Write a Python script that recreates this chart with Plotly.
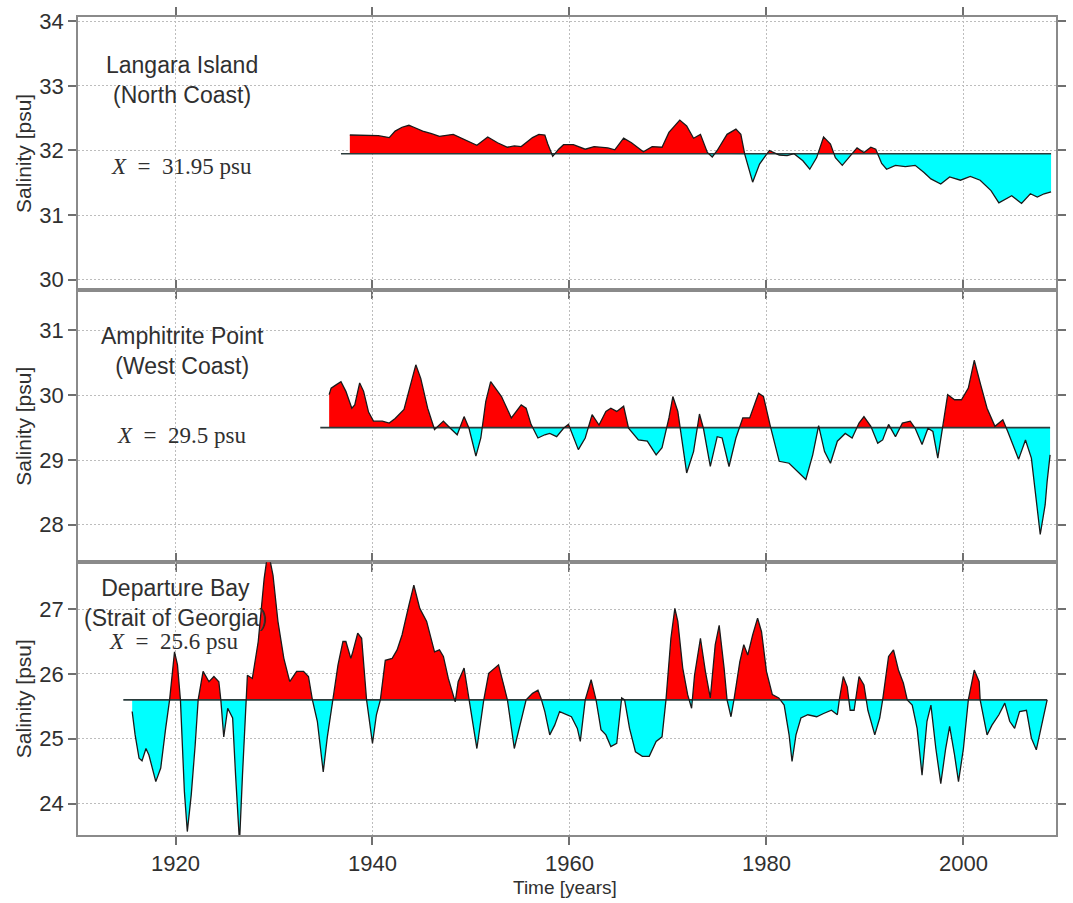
import plotly.graph_objects as go
from plotly.subplots import make_subplots

# ---------------- data ----------------
station_names = ["Langara Island<br>(North Coast)",
                 "Amphitrite Point<br>(West Coast)",
                 "Departure Bay<br>(Strait of Georgia)"]
mean_values = [31.95, 29.5, 25.6]
mean_labels = ["31.95", "29.5", "25.6"]
x_tick_labels = [1920, 1940, 1960, 1980, 2000]

langara_years = [1937.7, 1938.5, 1939.6, 1940.6, 1941.7, 1942.3, 1943.0, 1943.7, 1944.2, 1945.1,
                 1946.0, 1946.8, 1948.2, 1949.3, 1950.6, 1951.7, 1952.7, 1953.7, 1954.4, 1955.1,
                 1955.6, 1956.25, 1956.9, 1957.5, 1957.8, 1958.3, 1958.9, 1959.4, 1960.4, 1961.6,
                 1962.5, 1963.9, 1964.6, 1965.5, 1966.3, 1967.5, 1968.4, 1969.4, 1970.1, 1971.2,
                 1971.9, 1972.6, 1973.3, 1974.0, 1974.5, 1975.0, 1976.0, 1976.9, 1977.4, 1977.8,
                 1978.6, 1979.3, 1980.3, 1981.3, 1982.1, 1982.8, 1983.7, 1984.4, 1985.1, 1985.8,
                 1986.5, 1987.0, 1987.7, 1988.4, 1989.2, 1989.9, 1990.6, 1991.1, 1991.7, 1992.2,
                 1993.1, 1994.1, 1995.1, 1996.0, 1996.7, 1997.7, 1998.6, 1999.7, 2000.7, 2001.7,
                 2002.8, 2003.6, 2004.3, 2004.9, 2005.9, 2006.8, 2007.5, 2008.2, 2008.9]
langara_salinity = [32.24, 32.24, 32.24, 32.23, 32.2, 32.3, 32.36, 32.39, 32.36, 32.3,
                    32.26, 32.22, 32.25, 32.17, 32.08, 32.21, 32.12, 32.05, 32.07, 32.06,
                    32.12, 32.2, 32.25, 32.24, 32.1, 31.91, 32.02, 32.09, 32.09, 32.02,
                    32.06, 32.04, 32.01, 32.19, 32.12, 31.98, 32.06, 32.05, 32.28, 32.47,
                    32.38, 32.19, 32.25, 31.97, 31.9, 32.0, 32.25, 32.33, 32.25, 31.94,
                    31.51, 31.79, 32.0, 31.93, 31.92, 31.95, 31.84, 31.71, 31.89, 32.21,
                    32.1, 31.89, 31.77, 31.9, 32.04, 31.97, 32.05, 32.02, 31.8, 31.71,
                    31.77, 31.75, 31.77, 31.66, 31.56, 31.48, 31.59, 31.54, 31.6, 31.54,
                    31.38, 31.19, 31.25, 31.3, 31.18, 31.33, 31.28, 31.33, 31.36]

amphitrite_years = [1935.6, 1935.8, 1936.3, 1936.8, 1937.3, 1937.9, 1938.2, 1938.7, 1939.1, 1939.6,
                    1940.1, 1941.0, 1941.7, 1942.3, 1943.2, 1943.7, 1944.4, 1944.9, 1945.6, 1946.3,
                    1947.2, 1947.9, 1948.6, 1949.3, 1949.8, 1950.5, 1951.0, 1951.5, 1952.0, 1953.1,
                    1954.1, 1955.1, 1955.6, 1956.1, 1956.8, 1957.5, 1958.0, 1958.7, 1959.4, 1959.9,
                    1960.9, 1961.6, 1962.3, 1963.0, 1963.7, 1964.2, 1964.8, 1965.5, 1966.0, 1967.0,
                    1967.9, 1968.8, 1969.4, 1970.1, 1970.5, 1971.0, 1971.9, 1972.6, 1973.2, 1973.6,
                    1974.3, 1975.0, 1975.5, 1976.2, 1976.9, 1977.6, 1978.3, 1979.2, 1979.7, 1980.4,
                    1981.3, 1982.3, 1983.3, 1984.0, 1984.7, 1985.3, 1985.9, 1986.5, 1987.2, 1988.0,
                    1988.7, 1989.4, 1989.9, 1990.6, 1991.3, 1991.8, 1992.4, 1993.1, 1993.8, 1994.6,
                    1995.1, 1995.8, 1996.4, 1996.9, 1997.4, 1997.9, 1998.4, 1999.1, 1999.8, 2000.5,
                    2001.1, 2001.7, 2002.4, 2003.2, 2004.0, 2004.5, 2005.6, 2006.3, 2006.9, 2007.8,
                    2008.3, 2008.5, 2008.8]
amphitrite_salinity = [30.01, 30.11, 30.16, 30.21, 30.06, 29.8, 29.85, 30.19, 30.06, 29.74,
                       29.6, 29.6, 29.57, 29.64, 29.78, 30.06, 30.47, 30.26, 29.8, 29.47,
                       29.6, 29.49, 29.39, 29.67, 29.49, 29.06, 29.34, 29.9, 30.21, 29.98,
                       29.65, 29.85, 29.8, 29.55, 29.34, 29.39, 29.41, 29.36, 29.49, 29.55,
                       29.16, 29.34, 29.7, 29.54, 29.75, 29.8, 29.75, 29.83, 29.49, 29.31,
                       29.29, 29.08, 29.19, 29.65, 29.98, 29.75, 28.8, 29.13, 29.71, 29.49,
                       28.9, 29.36, 29.34, 28.9, 29.34, 29.65, 29.65, 30.03, 29.98, 29.52,
                       28.98, 28.95, 28.8, 28.7, 29.08, 29.53, 29.13, 28.95, 29.29, 29.41,
                       29.34, 29.57, 29.67, 29.52, 29.26, 29.31, 29.55, 29.36, 29.57, 29.6,
                       29.49, 29.24, 29.49, 29.44, 29.03, 29.5, 30.01, 29.93, 29.93, 30.11,
                       30.54, 30.19, 29.8, 29.52, 29.62, 29.44, 29.01, 29.31, 29.03, 27.85,
                       28.31, 28.67, 29.08]

departure_years = [1915.6, 1915.9, 1916.3, 1916.6, 1917.0, 1917.3, 1918.0, 1918.5, 1919.0, 1919.4,
                   1919.9, 1920.2, 1920.5, 1920.9, 1921.2, 1921.6, 1922.0, 1922.3, 1922.8, 1923.4,
                   1923.9, 1924.4, 1924.6, 1924.9, 1925.3, 1925.8, 1926.1, 1926.5, 1926.8, 1927.2,
                   1927.3, 1927.8, 1928.4, 1929.0, 1929.4, 1929.9, 1930.4, 1931.0, 1931.6, 1932.3,
                   1933.0, 1933.5, 1933.9, 1934.4, 1935.0, 1935.4, 1936.0, 1936.5, 1937.0, 1937.3,
                   1937.8, 1938.0, 1938.5, 1938.9, 1939.4, 1940.0, 1940.4, 1940.8, 1941.3, 1942.0,
                   1942.5, 1943.0, 1943.7, 1944.2, 1944.8, 1945.5, 1946.3, 1946.8, 1947.2, 1947.7,
                   1948.4, 1948.7, 1949.3, 1949.8, 1950.6, 1951.3, 1951.8, 1952.8, 1953.4, 1953.7,
                   1954.4, 1955.1, 1955.6, 1956.25, 1956.8, 1957.1, 1957.5, 1958.0, 1958.5, 1959.0,
                   1959.7, 1960.2, 1960.8, 1961.1, 1961.6, 1962.2, 1962.7, 1963.2, 1963.7, 1964.2,
                   1964.8, 1965.3, 1965.6, 1966.1, 1966.7, 1967.4, 1968.1, 1968.8, 1969.4, 1969.8,
                   1970.3, 1970.7, 1971.0, 1971.5, 1972.0, 1972.4, 1972.7, 1973.3, 1973.8, 1974.3,
                   1974.8, 1975.2, 1975.7, 1976.0, 1976.4, 1976.7, 1977.3, 1977.7, 1978.1, 1978.6,
                   1979.1, 1979.5, 1980.0, 1980.6, 1981.25, 1981.8, 1982.3, 1982.6, 1983.0, 1983.5,
                   1984.2, 1985.1, 1985.8, 1986.6, 1987.2, 1987.4, 1987.8, 1988.2, 1988.5, 1988.9,
                   1989.4, 1989.9, 1990.3, 1991.0, 1991.5, 1991.8, 1992.4, 1992.9, 1993.4, 1993.9,
                   1994.3, 1994.8, 1995.3, 1995.8, 1996.3, 1996.7, 1997.2, 1997.7, 1998.2, 1998.6,
                   1999.1, 1999.5, 2000.0, 2000.5, 2001.1, 2001.6, 2001.7, 2002.1, 2002.4, 2002.9,
                   2003.6, 2004.2, 2004.7, 2005.2, 2005.7, 2006.4, 2006.9, 2007.4, 2008.0, 2008.5]
departure_salinity = [25.42, 25.06, 24.7, 24.66, 24.85, 24.75, 24.34, 24.55, 25.16, 25.6,
                      26.34, 26.14, 25.6, 24.19, 23.57, 24.14, 24.91, 25.6, 26.04, 25.88,
                      25.96, 25.88, 25.6, 25.03, 25.47, 25.32, 24.44, 23.4, 24.44, 25.6,
                      25.98, 25.93, 26.5, 27.47, 27.9, 27.52, 26.81, 26.24, 25.88, 26.04,
                      26.04, 25.96, 25.6, 25.27, 24.49, 25.01, 25.6, 26.14, 26.5, 26.5,
                      26.24, 26.34, 26.63, 26.55, 25.6, 24.93, 25.37, 25.6, 26.21, 26.24,
                      26.37, 26.6, 27.06, 27.37, 27.01, 26.81, 26.34, 26.37, 26.27, 25.93,
                      25.57, 25.88, 26.09, 25.6, 24.85, 25.6, 26.01, 26.14, 25.8, 25.6,
                      24.85, 25.27, 25.6, 25.7, 25.75, 25.63, 25.42, 25.06, 25.21, 25.42,
                      25.37, 25.34, 25.16, 24.96, 25.6, 25.91, 25.6, 25.14, 25.06, 24.88,
                      24.93, 25.63, 25.6, 25.16, 24.8, 24.73, 24.73, 24.96, 25.03, 25.6,
                      26.55, 27.01, 26.81, 26.09, 25.68, 25.47, 25.98, 26.55, 26.04, 25.63,
                      26.45, 26.75, 26.09, 25.6, 25.34, 25.6, 26.19, 26.45, 26.29, 26.6,
                      26.86, 26.65, 26.04, 25.68, 25.63, 25.52, 25.06, 24.65, 25.06, 25.32,
                      25.37, 25.34, 25.39, 25.44, 25.37, 25.6, 25.96, 25.8, 25.44, 25.44,
                      25.96, 25.83, 25.44, 25.06, 25.32, 25.6, 26.27, 26.37, 26.06, 25.86,
                      25.6, 25.52, 25.16, 24.44, 25.27, 25.52, 24.85, 24.31, 24.85, 25.19,
                      24.75, 24.34, 24.85, 25.6, 26.06, 25.88, 25.6, 25.27, 25.06, 25.21,
                      25.37, 25.55, 25.27, 25.16, 25.42, 25.44, 25.01, 24.83, 25.27, 25.6]

series_years = [langara_years, amphitrite_years, departure_years]
series_values = [langara_salinity, amphitrite_salinity, departure_salinity]
y_ranges = [[29.846, 34.066], [27.42, 31.63], [23.517, 27.72]]
y_ticks = [[30, 31, 32, 33, 34], [28, 29, 30, 31], [24, 25, 26, 27]]

# ---------------- styling ----------------
RED = "#ff0000"
CYAN = "#00ffff"
TEXT = "#303030"
FRAME = "#8a8a8a"
GRID = "#bdbdbd"
W, H = 1073, 903
ML, MR, MT, MB = 78, 7, 16, 68
PW, PH = W - ML - MR, H - MT - MB


def px_x(px):
    return (px - ML) / PW


def px_y(py):
    return (H - MB - py) / PH


def with_crossings(xs, ys, m):
    """Insert points where the curve crosses the mean so fills split cleanly."""
    ox, oy = [xs[0]], [ys[0]]
    for i in range(1, len(xs)):
        x0, y0, x1, y1 = xs[i - 1], ys[i - 1], xs[i], ys[i]
        if (y0 - m) * (y1 - m) < 0:
            t = (m - y0) / (y1 - y0)
            ox.append(x0 + t * (x1 - x0))
            oy.append(m)
        ox.append(x1)
        oy.append(y1)
    return ox, oy


fig = make_subplots(rows=3, cols=1, shared_xaxes=True, vertical_spacing=0)

for i in range(3):
    row = i + 1
    xs, ys, m = series_years[i], series_values[i], mean_values[i]
    ax, ay = with_crossings(xs, ys, m)
    base = [m] * len(ax)
    upper = [max(v, m) for v in ay]
    lower = [min(v, m) for v in ay]
    fig.add_trace(go.Scatter(x=ax, y=base, mode="lines", line=dict(width=0),
                             hoverinfo="skip", showlegend=False), row=row, col=1)
    fig.add_trace(go.Scatter(x=ax, y=upper, mode="lines", line=dict(width=0),
                             fill="tonexty", fillcolor=RED, hoverinfo="skip",
                             showlegend=False), row=row, col=1)
    fig.add_trace(go.Scatter(x=ax, y=base, mode="lines", line=dict(width=0),
                             hoverinfo="skip", showlegend=False), row=row, col=1)
    fig.add_trace(go.Scatter(x=ax, y=lower, mode="lines", line=dict(width=0),
                             fill="tonexty", fillcolor=CYAN, hoverinfo="skip",
                             showlegend=False), row=row, col=1)
    # mean line (extends a little before the first sample)
    fig.add_trace(go.Scatter(x=[xs[0] - 0.9, xs[-1]], y=[m, m], mode="lines",
                             line=dict(color="#2b3b3b", width=1.6),
                             hoverinfo="skip", showlegend=False), row=row, col=1)
    # series outline
    fig.add_trace(go.Scatter(x=xs, y=ys, mode="lines",
                             line=dict(color="#1a1a1a", width=1.3),
                             showlegend=False), row=row, col=1)

    fig.update_yaxes(range=y_ranges[i], tickvals=y_ticks[i], row=row, col=1)

axis_common = dict(showline=True, linecolor=FRAME, linewidth=1.6, mirror="ticks",
                   ticks="outside", ticklen=8, tickwidth=1.5, tickcolor="#707070",
                   showgrid=True, gridcolor=GRID, griddash="2px,2px", gridwidth=1,
                   zeroline=False, tickfont=dict(family="Liberation Sans", size=22, color=TEXT))
fig.update_xaxes(**axis_common)
fig.update_yaxes(**axis_common)
fig.update_xaxes(range=[1910.1, 2009.4], tickvals=x_tick_labels,
                 ticktext=[str(v) for v in x_tick_labels])

annotations = []
# station names
name_pos = [(183, 79), (184, 350), (176, 603)]
for (px, py), name in zip(name_pos, station_names):
    annotations.append(dict(x=px_x(px), y=px_y(py), xref="paper", yref="paper",
                            text=name, showarrow=False, xanchor="center", yanchor="middle",
                            font=dict(family="Liberation Sans", size=23, color=TEXT)))
# mean labels
mean_pos = [(183, 166), (183, 435), (174, 641)]
for (px, py), lab in zip(mean_pos, mean_labels):
    annotations.append(dict(x=px_x(px), y=px_y(py), xref="paper", yref="paper",
                            text="<i>X</i>&nbsp;&nbsp;=&nbsp;&nbsp;" + lab + " psu",
                            showarrow=False, xanchor="center", yanchor="middle",
                            font=dict(family="Liberation Serif", size=23, color=TEXT)))
# y titles
for py in [152.5, 425.7, 698.5]:
    annotations.append(dict(x=px_x(23), y=px_y(py), xref="paper", yref="paper",
                            text="Salinity [psu]", textangle=-90, showarrow=False,
                            xanchor="center", yanchor="middle",
                            font=dict(family="Liberation Sans", size=21, color=TEXT)))
# x title
annotations.append(dict(x=px_x(570), y=px_y(888), xref="paper", yref="paper",
                        text="Time [years]", showarrow=False, xanchor="center",
                        yanchor="middle",
                        font=dict(family="Liberation Sans", size=19, color=TEXT)))

fig.update_layout(width=W, height=H, margin=dict(l=ML, r=MR, t=MT, b=MB),
                  plot_bgcolor="white", paper_bgcolor="white",
                  annotations=annotations, showlegend=False)

fig.write_html("out.html")
